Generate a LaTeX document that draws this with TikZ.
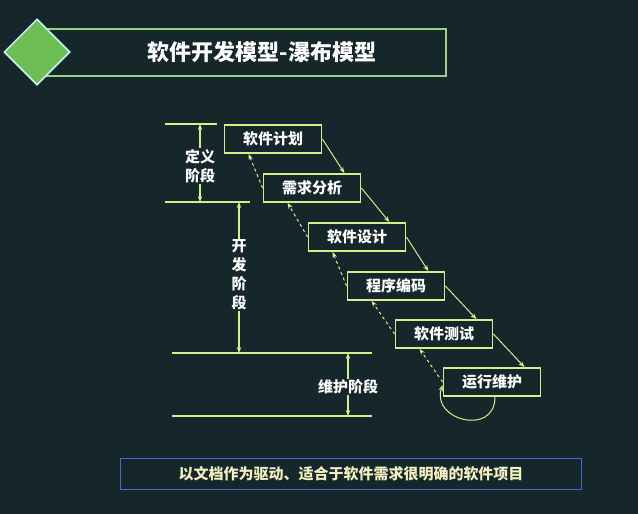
\documentclass[tikz,border=0pt]{standalone}
\usepackage{fontspec}
\newfontfamily\cjk{Noto Sans CJK SC}
\usetikzlibrary{positioning,shapes.geometric,arrows.meta}
\definecolor{bgc}{HTML}{15272B}
\definecolor{lime}{HTML}{D8EC8C}
\definecolor{tgreen}{HTML}{6DBE55}
\definecolor{bblue}{HTML}{4468E0}
\definecolor{ptext}{HTML}{F2EFC0}
\begin{document}
\begin{tikzpicture}[x=1pt,y=-1pt,
        stage/.style={draw=lime,line width=1.8pt,fill=bgc,minimum width=97pt,minimum height=28pt,inner sep=0pt,text=white,font=\cjk\bfseries\fontsize{15}{15}\selectfont},
        flow/.style={draw=lime,line width=1pt,-{Stealth[length=6pt]}},
        back/.style={draw=lime,line width=1pt,dashed,-{Stealth[length=6pt]}},
        phase/.style={draw=lime,line width=1.4pt},
        span/.style={draw=lime,line width=1.2pt,{Stealth[length=6pt]}-{Stealth[length=6pt]}},
        plabel/.style={fill=bgc,text=white,inner sep=1pt,align=center,font=\cjk\bfseries\fontsize{15}{19}\selectfont}
    ]
    \fill[bgc] (0,0) rectangle (638,514);
    \useasboundingbox (0,0) rectangle (638,514);

    %--- title ---
    \draw[tgreen!70!white,line width=1.2pt] (40,29) rectangle (446,76);
    \node[diamond,draw=cyan!20!white,line width=1.5pt,fill=tgreen,minimum width=66pt,minimum height=66pt,inner sep=0pt] (dia) at (37,52) {};
    \node[text=white,font=\cjk\bfseries\fontsize{22}{22}\selectfont] (title) at (262,52) {软件开发模型-瀑布模型};

    %--- stages ---
    \node[stage] (s1) at (273,139) {软件计划};
    \node[stage] (s2) at (312,188) {需求分析};
    \node[stage] (s3) at (357,237) {软件设计};
    \node[stage] (s4) at (396,286) {程序编码};
    \node[stage] (s5) at (444,334) {软件测试};
    \node[stage] (s6) at (492,382) {运行维护};

    %--- arrows ---
    \foreach \a/\b in {s1/s2,s2/s3,s3/s4,s4/s5,s5/s6}{
        \draw[flow] (\a.east) -- ([xshift=-17pt]\b.north east);
        \draw[back] (\b.west) -- ([xshift=25pt]\a.south west);
    }
    \draw[flow] ([xshift=3pt]s6.south) .. controls +(0,40) and +(-12,35) .. ([yshift=-3pt]s6.west);

    %--- phases ---
    \coordinate (h1a) at (165,124); \coordinate (h1b) at (217,124);
    \coordinate (h2a) at (165,202); \coordinate (h2b) at (250,202);
    \coordinate (h3a) at (172,353); \coordinate (h3b) at (372,353);
    \coordinate (h4a) at (172,416); \coordinate (h4b) at (372,416);
    \foreach \h in {1,2,3,4} \draw[phase] (h\h a) -- (h\h b);
    \coordinate (d1) at (200,124); \coordinate (d2) at (200,202);
    \coordinate (k1) at (239,202); \coordinate (k2) at (239,353);
    \coordinate (m1) at (348,353); \coordinate (m2) at (348,416);
    \draw[span] (d1) -- (d2);
    \draw[span] (k1) -- (k2);
    \draw[span] (m1) -- (m2);
    \node[plabel] (def) at (200,166) {定义\\阶段};
    \node[plabel] (dev) at (239,275) {开\\发\\阶\\段};
    \node[plabel] (mnt) at (348,387) {维护阶段};

    %--- note ---
    \node[draw=bblue,line width=1.8pt,fill=bgc,minimum width=461pt,minimum height=31pt,inner sep=0pt,text=ptext,font=\cjk\bfseries\fontsize{15}{15}\selectfont] (note) at (351,474) {以文档作为驱动、适合于软件需求很明确的软件项目};
\end{tikzpicture}
\end{document}
